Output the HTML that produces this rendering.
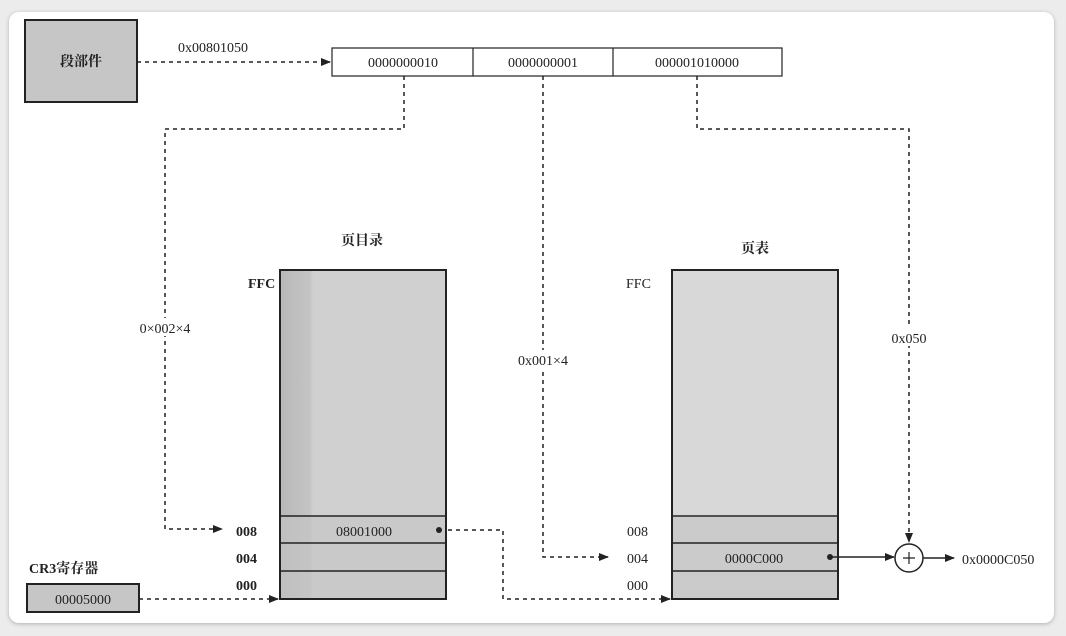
<!DOCTYPE html>
<html><head><meta charset="utf-8"><style>
html,body{margin:0;padding:0;width:1066px;height:636px;background:#ececec;overflow:hidden}
.card{position:absolute;left:9px;top:12px;width:1045px;height:611px;background:#fff;border-radius:10px;box-shadow:0 1px 4px rgba(0,0,0,.25)}
svg{position:absolute;left:0;top:0}
text{font-family:"Liberation Serif","Noto Serif CJK SC",serif;font-size:14px;fill:#222}
.b{font-weight:bold}
</style></head><body>
<div class="card"></div>
<svg width="1066" height="636" viewBox="0 0 1066 636">
<defs>
<marker id="ar" markerWidth="10" markerHeight="8" refX="9" refY="4" orient="auto" markerUnits="userSpaceOnUse"><path d="M0,0 L10,4 L0,8 Z" fill="#222"/></marker>
<linearGradient id="pd" x1="0" x2="1" y1="0" y2="0"><stop offset="0" stop-color="#b8b8b8"/><stop offset="0.18" stop-color="#c4c4c4"/><stop offset="0.2" stop-color="#d0d0d0"/><stop offset="1" stop-color="#d0d0d0"/></linearGradient>
</defs>
<g fill="none" stroke="#222" stroke-width="1.5" stroke-dasharray="4,4">
<path d="M137,62 H330" marker-end="url(#ar)"/>
<path d="M404,76 V129 H165 V529 H222" marker-end="url(#ar)"/>
<path d="M543,76 V557 H608" marker-end="url(#ar)"/>
<path d="M697,76 V129 H909 V542" marker-end="url(#ar)"/>
<path d="M440,530 H503 V599 H670" marker-end="url(#ar)"/>
<path d="M139,599 H278" marker-end="url(#ar)"/>
</g>
<rect x="25" y="20" width="112" height="82" fill="#c6c6c6" stroke="#222" stroke-width="2"/>
<text x="81" y="66" text-anchor="middle" class="b" font-size="15">段部件</text>
<text x="178" y="52">0x00801050</text>
<rect x="332" y="48" width="450" height="28" fill="#fff" stroke="#222" stroke-width="1.2"/>
<line x1="473" y1="48" x2="473" y2="76" stroke="#222" stroke-width="1.2"/>
<line x1="613" y1="48" x2="613" y2="76" stroke="#222" stroke-width="1.2"/>
<text x="403" y="67" text-anchor="middle">0000000010</text>
<text x="543" y="67" text-anchor="middle">0000000001</text>
<text x="697" y="67" text-anchor="middle">000001010000</text>
<rect x="155" y="318" width="20" height="18" fill="#fff"/>
<text x="165" y="333" text-anchor="middle">0×002×4</text>
<rect x="530" y="350" width="26" height="18" fill="#fff"/>
<text x="543" y="365" text-anchor="middle">0x001×4</text>
<rect x="895" y="328" width="28" height="18" fill="#fff"/>
<text x="909" y="343" text-anchor="middle">0x050</text>
<text x="362" y="245" text-anchor="middle" class="b" font-size="15">页目录</text>
<rect x="280" y="270" width="166" height="329" fill="url(#pd)" stroke="#222" stroke-width="2"/>
<rect x="281" y="517" width="164" height="81" fill="#c4c4c4" opacity=".6"/>
<g stroke="#222" stroke-width="1.5"><line x1="280" y1="516" x2="446" y2="516"/><line x1="280" y1="543" x2="446" y2="543"/><line x1="280" y1="571" x2="446" y2="571"/></g>
<text x="248" y="288" class="b">FFC</text>
<text x="236" y="536" class="b">008</text>
<text x="236" y="563" class="b">004</text>
<text x="236" y="590" class="b">000</text>
<text x="364" y="536" text-anchor="middle">08001000</text>
<circle cx="439" cy="530" r="3" fill="#222"/>
<text x="755" y="253" text-anchor="middle" class="b" font-size="15">页表</text>
<rect x="672" y="270" width="166" height="329" fill="#d8d8d8" stroke="#222" stroke-width="2"/>
<rect x="673" y="517" width="164" height="81" fill="#cbcbcb"/>
<g stroke="#222" stroke-width="1.5"><line x1="672" y1="516" x2="838" y2="516"/><line x1="672" y1="543" x2="838" y2="543"/><line x1="672" y1="571" x2="838" y2="571"/></g>
<text x="626" y="288">FFC</text>
<text x="627" y="536">008</text>
<text x="627" y="563">004</text>
<text x="627" y="590">000</text>
<text x="754" y="563" text-anchor="middle">0000C000</text>
<circle cx="830" cy="557" r="3" fill="#222"/>
<path d="M830,557 H894" stroke="#222" stroke-width="1.5" fill="none" marker-end="url(#ar)"/>
<circle cx="909" cy="558" r="14" fill="#fff" stroke="#222" stroke-width="1.5"/>
<path d="M903,558 H915 M909,552 V564" stroke="#222" stroke-width="1.2"/>
<path d="M923,558 H954" stroke="#222" stroke-width="1.5" fill="none" marker-end="url(#ar)"/>
<text x="962" y="564" font-size="15">0x0000C050</text>
<text x="29" y="573" class="b" font-size="15">CR3寄存器</text>
<rect x="27" y="584" width="112" height="28" fill="#c6c6c6" stroke="#222" stroke-width="2"/>
<text x="83" y="604" text-anchor="middle">00005000</text>
</svg>
</body></html>
